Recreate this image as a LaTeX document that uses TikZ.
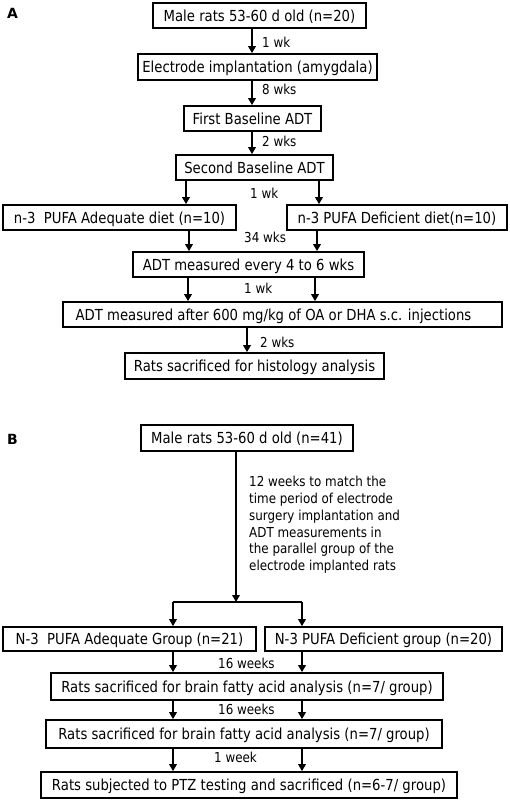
\documentclass[tikz,border=0pt]{standalone}
\usepackage{fontspec}
\setmainfont{DejaVu Sans}
\newfontfamily\boxfont{DejaVu Sans}[FakeStretch=0.87]
\usetikzlibrary{arrows.meta}
\tikzset{
  box/.style={draw, line width=1.7pt, inner sep=0pt, font=\boxfont\fontsize{15.2}{18}\selectfont, text height=11pt, text depth=0pt},
  labtxt/.style={inner sep=0pt, anchor=west, font=\boxfont\fontsize{13.7}{16.8}\selectfont},
  lab/.style={labtxt, text height=10pt, text depth=0pt},
  panel/.style={inner sep=0pt, font=\fontsize{14}{16}\selectfont\bfseries, text height=10.2pt, text depth=0pt},
  arr/.style={line width=1.8pt, -{Triangle[length=7pt,width=7.5pt]}},
  ln/.style={line width=1.8pt}
}
\begin{document}
\begin{tikzpicture}[x=1pt,y=-1pt]
\useasboundingbox (0,0) rectangle (510,801);
% panel labels
\node[panel] (pA) at (12.5,13) {A};
\node[panel] (pB) at (12.5,439) {B};
% Panel A boxes
\node[box, minimum width=213pt, minimum height=25pt] (b1) at (259.5,15.5) {Male rats 53-60 d old (n=20)};
\node[box, minimum width=239pt, minimum height=26pt] (b2) at (257.5,67) {Electrode implantation (amygdala)};
\node[box, minimum width=137pt, minimum height=25pt] (b3) at (252.5,118.5) {First Baseline ADT};
\node[box, minimum width=157pt, minimum height=25pt] (b4) at (254.5,167.5) {Second Baseline ADT};
\node[box, minimum width=233pt, minimum height=25pt] (b5L) at (119.5,217.5) {n-3\ \ PUFA Adequate diet (n=10)};
\node[box, minimum width=220pt, minimum height=25pt] (b5R) at (397,217.5) {n-3 PUFA Deficient diet(n=10)};
\node[box, minimum width=231pt, minimum height=25pt] (b6) at (248.5,264.5) {ADT measured every 4 to 6 wks};
\node[box, minimum width=439pt, minimum height=25pt] (b7) at (282.5,314.5) {\hspace*{-18pt}ADT measured after 600 mg/kg of OA or DHA s.c. injections};
\node[box, minimum width=259pt, minimum height=26pt] (b8) at (254.5,366) {Rats sacrificed for histology analysis};
% Panel B boxes
\node[box, minimum width=212pt, minimum height=26pt] (b9) at (247,438) {Male rats 53-60 d old (n=41)};
\node[box, minimum width=253pt, minimum height=24pt] (b10L) at (129.5,639) {N-3\ \ PUFA Adequate Group (n=21)};
\node[box, minimum width=237pt, minimum height=24pt] (b10R) at (383.5,639) {N-3 PUFA Deficient group (n=20)};
\node[box, minimum width=392pt, minimum height=27pt] (b11) at (247,686.5) {Rats sacrificed for brain fatty acid analysis (n=7/ group)};
\node[box, minimum width=396pt, minimum height=28pt] (b12) at (244,734) {Rats sacrificed for brain fatty acid analysis (n=7/ group)};
\node[box, minimum width=416pt, minimum height=26pt] (b13) at (249,785) {Rats subjected to PTZ testing and sacrificed (n=6-7/ group)};
% x positions of connectors
\coordinate (xa) at (252,0);
\coordinate (xb) at (186,0);
\coordinate (xc) at (319,0);
\coordinate (xd) at (189,0);
\coordinate (xe) at (317,0);
\coordinate (xf) at (188,0);
\coordinate (xg) at (315,0);
\coordinate (xh) at (247,0);
\coordinate (xi) at (236,0);
\coordinate (xl) at (173,0);
\coordinate (xr) at (302,0);
\coordinate (j) at (236,602);
\coordinate (jl) at (173,602);
\coordinate (jr) at (302,602);
% Panel A connectors
\draw[arr] (xa |- b1.south) -- (xa |- b2.north);
\draw[arr] (xa |- b2.south) -- (xa |- b3.north);
\draw[arr] (xa |- b3.south) -- (xa |- b4.north);
\draw[arr] (xb |- b4.south) -- (xb |- b5L.north);
\draw[arr] (xc |- b4.south) -- (xc |- b5R.north);
\draw[arr] (xd |- b5L.south) -- (xd |- b6.north);
\draw[arr] (xe |- b5R.south) -- (xe |- b6.north);
\draw[arr] (xf |- b6.south) -- (xf |- b7.north);
\draw[arr] (xg |- b6.south) -- (xg |- b7.north);
\draw[arr] (xh |- b7.south) -- (xh |- b8.north);
% Panel B connectors
\draw[arr] (xi |- b9.south) -- (j);
\draw[ln] (jl) -- (jr);
\draw[arr] (jl) -- (xl |- b10L.north);
\draw[arr] (jr) -- (xr |- b10R.north);
\draw[arr] (xl |- b10L.south) -- (xl |- b11.north);
\draw[arr] (xr |- b10R.south) -- (xr |- b11.north);
\draw[arr] (xl |- b11.south) -- (xl |- b12.north);
\draw[arr] (xr |- b11.south) -- (xr |- b12.north);
\draw[arr] (xl |- b12.south) -- (xl |- b13.north);
\draw[arr] (xr |- b12.south) -- (xr |- b13.north);
% labels
\node[lab] (l1) at (262,42) {1 wk};
\node[lab] (l2) at (262,89) {8 wks};
\node[lab] (l3) at (262,141) {2 wks};
\node[lab] (l4) at (250,193) {1 wk};
\node[lab] (l5) at (244,237) {34 wks};
\node[lab] (l6) at (244,288) {1 wk};
\node[lab] (l7) at (260,342) {2 wks};
\node[labtxt, align=left] (l8) at (249,525) {12 weeks to match the\\time period of electrode\\surgery implantation and\\ADT measurements in\\the parallel group of the\\electrode implanted rats};
\node[lab] (l9) at (218,663) {16 weeks};
\node[lab] (l10) at (218,709) {16 weeks};
\node[lab] (l11) at (214,757) {1 week};
\end{tikzpicture}
\end{document}
